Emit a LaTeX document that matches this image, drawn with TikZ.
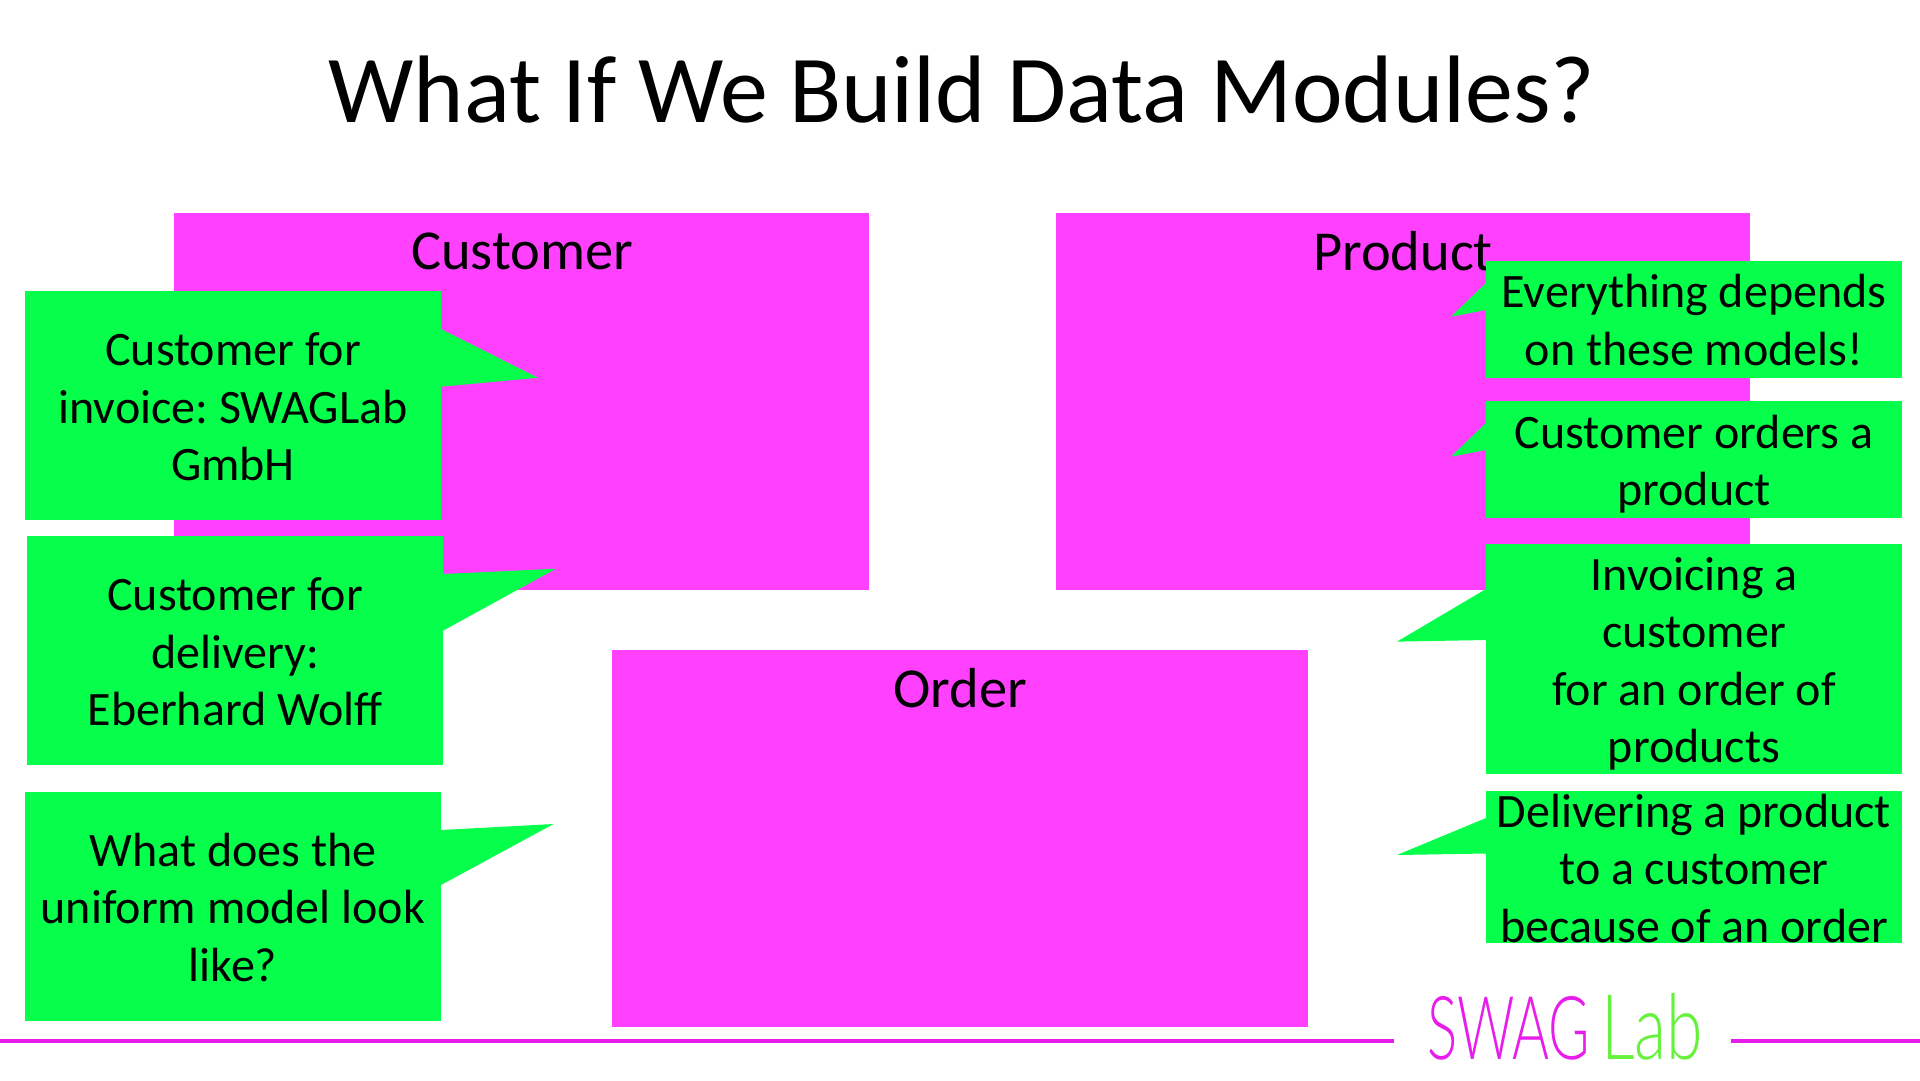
\documentclass[tikz,border=0pt]{standalone}
\usepackage{fontspec}
\setmainfont{Carlito}
\newfontfamily\logofont{Lato Light}
\frenchspacing
\definecolor{boxmag}{HTML}{FF40FF}
\definecolor{callgreen}{HTML}{05FF4B}
\definecolor{rulemag}{HTML}{E81CEB}
\definecolor{labgreen}{HTML}{66F23C}
\tikzset{
 module/.style={fill=boxmag,draw=none,anchor=north west,inner sep=0pt,outer sep=0pt},
 modlabel/.style={font=\fontsize{56.4}{60}\selectfont,text=black,inner sep=0pt,anchor=center},
 callbox/.style={fill=callgreen,draw=none,anchor=north west,inner sep=0pt,outer sep=0pt},
 calltext/.style={font=\fontsize{48}{57.5}\selectfont,text=black,align=center,inner sep=0pt,anchor=center},
 point/.style={fill=callgreen,draw=none},
 rulebar/.style={draw=rulemag,line width=4pt},
}
\newcommand{\cbox}[5]{\node[callbox,minimum width=#4pt-#2pt,minimum height=#5pt-#3pt] (#1) at (#2,#3) {};}
\begin{document}
\begin{tikzpicture}[x=1pt,y=-1pt]
\useasboundingbox (0,0) rectangle (1920,1080);
\fill[white] (0,0) rectangle (1920,1080);
\node[font=\fontsize{95.9}{110}\selectfont,text=black,inner sep=0pt] (title) at (962,90) {What If We Build Data Modules?};
% modules
\node[module,minimum width=695pt,minimum height=377pt] (customer) at (174,213) {};
\node[module,minimum width=694.5pt,minimum height=377pt] (product) at (1055.5,213) {};
\node[module,minimum width=696pt,minimum height=377pt] (order) at (612,650) {};
\node[modlabel] (customerl) at (522,251) {Customer};
\node[modlabel] (productl) at (1403,251) {Product};
\node[modlabel] (orderl) at (960,688) {Order};
% left callouts
\cbox{ca}{25}{290.7}{441}{520}
\fill[point] (441,329) -- (538,377.7) -- (441,386.7) -- cycle;
\node[calltext] (cat) at (233,407) {Customer for\\invoice: SWAGLab\\GmbH};
\cbox{cb}{27}{536}{443}{765}
\fill[point] (443,574) -- (556,568.7) -- (443,630.7) -- cycle;
\node[calltext] (cbt) at (235,652) {Customer for\\delivery:\\Eberhard Wolff};
\cbox{cc}{25}{792}{441}{1021}
\fill[point] (441,830) -- (553.5,824) -- (441,885) -- cycle;
\node[calltext] (cct) at (233,907) {What does the\\uniform model look\\like?};
% right callouts
\cbox{cd}{1486}{260.7}{1902}{377.7}
\fill[point] (1486,283) -- (1451,316.7) -- (1486,310) -- cycle;
\node[calltext] (cdt) at (1694,320) {Everything depends\\on these models!};
\cbox{ce}{1486}{401}{1902}{517.7}
\fill[point] (1486,423) -- (1451,456.7) -- (1486,450) -- cycle;
\node[calltext] (cet) at (1694,464) {Customer orders a\\product};
\cbox{cf}{1486}{544}{1902}{774}
\fill[point] (1486,589) -- (1397,641.6) -- (1486,640) -- cycle;
\node[calltext] (cft) at (1694,664) {Invoicing a\\customer\\for an order of\\products};
\cbox{cg}{1486}{791}{1902}{943}
\fill[point] (1486,818) -- (1397,855) -- (1486,853.5) -- cycle;
\node[calltext] (cgt) at (1694,868) {Delivering a product\\to a customer\\because of an order};
% footer
\coordinate (r1a) at (0,1041);
\coordinate (r1b) at (1394,1041);
\coordinate (r2a) at (1730.5,1041);
\coordinate (r2b) at (1920,1041);
\draw[rulebar] (r1a) -- (r1b);
\draw[rulebar] (r2a) -- (r2b);
\node[inner sep=0pt,anchor=base west,text=rulemag] (swag) at (1427,1059) {\resizebox{163pt}{63pt}{\logofont SWAG}};
\node[inner sep=0pt,anchor=base west,text=labgreen] (lab) at (1601,1059) {\resizebox{102pt}{66pt}{\logofont Lab}};
\end{tikzpicture}
\end{document}
